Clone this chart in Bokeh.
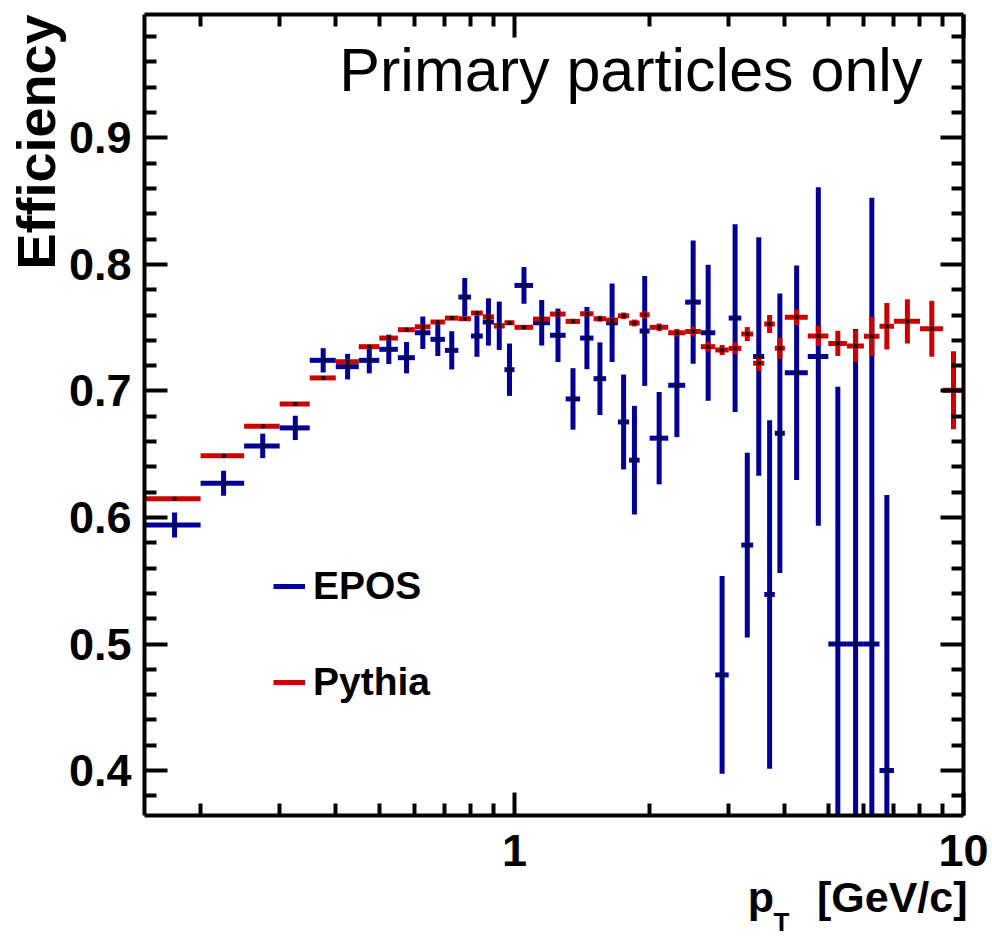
import numpy as np
from bokeh.plotting import figure
from bokeh.models import (FixedTicker, LinearAxis, LogAxis, CustomJSTickFormatter,
                          Label, Legend, LegendItem, ColumnDataSource, Range1d, Title)
from bokeh.embed import file_html
from bokeh.resources import INLINE

# ---------------- data ----------------
bin_edges = [0.15, 0.20, 0.25, 0.30, 0.35, 0.40, 0.45, 0.50, 0.55, 0.60, 0.65, 0.70,
             0.75, 0.80, 0.85, 0.90, 0.95, 1.0, 1.1, 1.2, 1.3, 1.4, 1.5, 1.6, 1.7,
             1.8, 1.9, 2.0, 2.2, 2.4, 2.6, 2.8, 3.0, 3.2, 3.4, 3.6, 3.8, 4.0, 4.5,
             5.0, 5.5, 6.0, 6.5, 7.0, 8.0, 9.0, 10.0]

epos_eff = [0.594, 0.627, 0.6566, 0.6708, 0.7242, 0.7192, 0.7242, 0.7329, 0.7263, 0.746,
            0.7408, 0.7321, 0.7742, 0.7434, 0.7545, 0.7515, 0.7168, 0.7834, 0.7539, 0.744,
            0.6937, 0.7418, 0.7097, 0.7539, 0.6755, 0.6453, 0.7474, 0.6627, 0.7045, 0.7702,
            0.746, 0.4756, 0.7576, 0.5782, 0.7272, 0.5391, 0.6666, 0.7144, 0.7272, 0.5,
            0.5, 0.5, 0.4, None, None, None]
epos_err = [0.0099, 0.0099, 0.0097, 0.0096, 0.0096, 0.0101, 0.0103, 0.0116, 0.0124, 0.0128,
            0.0132, 0.0151, 0.0151, 0.0164, 0.0187, 0.0191, 0.0207, 0.0145, 0.018, 0.0211,
            0.0243, 0.0246, 0.0287, 0.031, 0.0375, 0.0429, 0.0434, 0.0365, 0.041, 0.0487,
            0.0537, 0.0781, 0.0742, 0.073, 0.0943, 0.1377, 0.1105, 0.0848, 0.1338, 0.2034,
            0.2489, 0.3526, 0.2178, None, None, None]

pythia_eff = [0.6148, 0.6487, 0.6721, 0.6897, 0.7103, 0.7231, 0.735, 0.7418, 0.7484, 0.7507,
              0.7545, 0.7576, 0.7571, 0.7616, 0.7586, 0.7515, 0.7539, 0.7503, 0.7568, 0.7608,
              0.755, 0.761, 0.7571, 0.756, 0.7594, 0.7537, 0.7602, 0.7503, 0.746, 0.747,
              0.735, 0.7324, 0.7337, 0.745, 0.7219, 0.7529, 0.7337, 0.7582, 0.7434, 0.7376,
              0.7355, 0.7432, 0.7511, 0.755, 0.7492, 0.7006]
pythia_err = [0.001, 0.001, 0.001, 0.001, 0.001, 0.001, 0.001, 0.001, 0.001, 0.001,
              0.001, 0.001, 0.001, 0.0012, 0.0012, 0.0013, 0.0013, 0.0015, 0.0017, 0.0018,
              0.002, 0.0022, 0.0023, 0.0025, 0.0026, 0.0027, 0.0029, 0.003, 0.003, 0.004,
              0.004, 0.004, 0.0046, 0.0055, 0.0063, 0.0071, 0.0083, 0.0063, 0.0079, 0.0099,
              0.0126, 0.0155, 0.0184, 0.0174, 0.0221, 0.0308]

x_major = [1, 10]
x_minor = [0.2, 0.3, 0.4, 0.5, 0.6, 0.7, 0.8, 0.9, 2, 3, 4, 5, 6, 7, 8, 9]
y_major = [0.4, 0.5, 0.6, 0.7, 0.8, 0.9]

EPOS_COLOR = "#000099"
PYTHIA_COLOR = "#cc0000"
FONT = "Liberation Sans"


def series_source(eff, err):
    lo, hi, c, y, ylo, yhi = [], [], [], [], [], []
    for i, (v, e) in enumerate(zip(eff, err)):
        if v is None:
            continue
        a, b = bin_edges[i], bin_edges[i + 1]
        lo.append(a); hi.append(b); c.append(0.5 * (a + b))
        y.append(v); ylo.append(v - e); yhi.append(v + e)
    return ColumnDataSource(dict(lo=lo, hi=hi, c=c, y=y, ylo=ylo, yhi=yhi))


src_e = series_source(epos_eff, epos_err)
src_p = series_source(pythia_eff, pythia_err)

p = figure(frame_width=819, frame_height=801, x_axis_type="log",
           x_range=Range1d(0.15, 10), y_range=Range1d(0.3645, 0.9975),
           output_backend="svg", toolbar_location=None,
           min_border_left=144, min_border_right=25, min_border_top=14, min_border_bottom=121,
           background_fill_color="white", border_fill_color="white")
p.grid.visible = False
p.outline_line_color = None

bottom = p.below[0]
left = p.left[0]

# error bars
lw = 5
eh = p.segment(x0="lo", x1="hi", y0="y", y1="y", source=src_e, line_color=EPOS_COLOR, line_width=lw)
p.segment(x0="c", x1="c", y0="ylo", y1="yhi", source=src_e, line_color=EPOS_COLOR, line_width=lw)
ph = p.segment(x0="lo", x1="hi", y0="y", y1="y", source=src_p, line_color=PYTHIA_COLOR, line_width=lw)
p.segment(x0="c", x1="c", y0="ylo", y1="yhi", source=src_p, line_color=PYTHIA_COLOR, line_width=lw)
p.scatter(x="c", y="y", source=src_e, marker="square", size=3, color="#111111")
p.scatter(x="c", y="y", source=src_p, marker="square", size=3, color="#111111")

# axes
xt = FixedTicker(ticks=x_major, minor_ticks=x_minor)
y_minor = [round(0.36 + 0.02 * i, 2) for i in range(33)]
y_minor = [v for v in y_minor if all(abs(v - m) > 1e-6 for m in y_major)]
yt = FixedTicker(ticks=y_major, minor_ticks=y_minor)

top = LogAxis()
right = LinearAxis()
p.add_layout(top, "above")
p.add_layout(right, "right")

bottom.ticker = xt
top.ticker = xt
left.ticker = yt
right.ticker = yt

for ax in [bottom, left, top, right]:
    ax.axis_line_width = 4
    ax.axis_line_color = "black"
    ax.major_tick_in = 23
    ax.major_tick_out = 0
    ax.minor_tick_in = 12
    ax.minor_tick_out = 0
    ax.major_tick_line_width = 4
    ax.minor_tick_line_width = 4
    ax.major_tick_line_color = "black"
    ax.minor_tick_line_color = "black"
    ax.major_label_text_font = FONT
    ax.major_label_text_font_style = "bold"
    ax.major_label_text_font_size = "45px"
    ax.major_label_text_color = "black"

bottom.formatter = CustomJSTickFormatter(code="return tick.toFixed(0);")
bottom.major_label_standoff = 19
left.major_label_standoff = 13
for ax in [top, right]:
    ax.formatter = CustomJSTickFormatter(code="return '';")
    ax.major_label_text_font_size = "0px"
    ax.major_label_standoff = 0

# axis titles (outside the frame -> side-panel titles)
p.add_layout(Title(text="Efficiency", align="right", vertical_align="bottom",
                   text_font=FONT, text_font_style="bold", text_font_size="54px",
                   text_color="black", standoff=0, offset=0), "left")
p.add_layout(Title(text="p\u2002\u2002[GeV/c]", align="right", vertical_align="top",
                   text_font=FONT, text_font_style="bold", text_font_size="43px",
                   text_color="black", standoff=8, offset=-4), "below")
p.add_layout(Title(text="T", align="left", vertical_align="top",
                   text_font=FONT, text_font_style="bold", text_font_size="26px",
                   text_color="black", standoff=-39, offset=629), "below")

# legend
legend = Legend(items=[LegendItem(label="EPOS", renderers=[eh]),
                       LegendItem(label="Pythia", renderers=[ph])],
                location=(129, 111), orientation="vertical",
                label_text_font=FONT, label_text_font_style="bold",
                label_text_font_size="39px", label_text_color="black",
                glyph_width=32, glyph_height=40, label_height=40, label_standoff=8,
                spacing=52, padding=0, margin=0,
                border_line_alpha=0, background_fill_alpha=0)
p.add_layout(legend)

# in-frame caption
p.add_layout(Label(x=8.10, y=0.954, text="Primary particles only", text_align="right",
                   text_baseline="alphabetic", text_font=FONT, text_font_size="61px",
                   text_color="black"))

open("out.html", "w").write(file_html(p, INLINE))
